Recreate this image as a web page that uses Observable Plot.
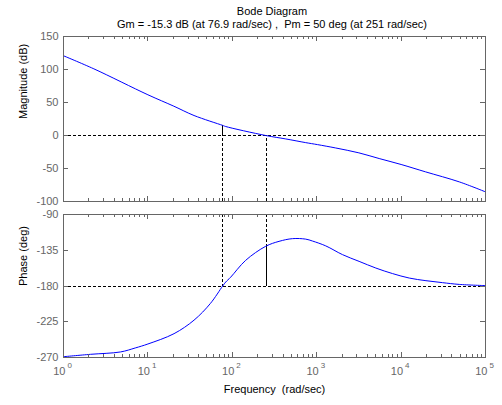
<!DOCTYPE html>
<html><head><meta charset="utf-8">
<script src="https://cdn.jsdelivr.net/npm/d3@7"></script>
<script src="https://cdn.jsdelivr.net/npm/@observablehq/plot@0.6"></script>
<style>
body{margin:0;background:#fff;}
#chart{position:relative;width:502px;height:405px;font-family:"Liberation Sans",Arial,sans-serif;background:#fff;overflow:hidden;}
.t{position:absolute;left:0;width:544px;text-align:center;font-size:11px;line-height:13px;color:#000;white-space:pre;}
svg{display:block}
svg text{white-space:pre}
</style></head><body>
<div id="chart">
<div class="t" id="title" style="top:5px"></div>
<div class="t" id="sub" style="top:18px"></div>
<div id="p1" style="position:absolute;top:30px;left:0"></div>
<div id="p2" style="position:absolute;top:205px;left:0"></div>
</div>
<script>
// ---- data ----
const titleText = "Bode Diagram";
const gmDb = -15.3, gmFreq = 76.9, pmDeg = 50, pmFreq = 251;
const magFreq = [1, 2.29, 10, 20.3, 35.2, 76.9, 83.6, 249, 430, 741, 1020, 1680, 3160, 5500, 10000, 19500, 49000, 100000];
const magDb   = [120.8, 101, 61.7, 44.4, 30.3, 15.3, 13.6, 0, -5.2, -10.8, -13.8, -18.9, -26.3, -34.9, -43.9, -55.1, -70.3, -85.4];
const phFreq = [1, 2.09, 4.74, 7.08, 10, 20.4, 35.2, 55.0, 76.9, 83.6, 95.5, 144, 249, 358, 516, 741, 891, 1280, 2020, 3180, 5020, 7930, 12500, 19700, 31000, 48900, 100000];
const phDeg  = [-269, -266, -263, -258, -253, -240, -223, -202, -180, -175, -169, -147.7, -130, -123.8, -120.4, -121, -123.4, -129.5, -140.5, -149, -157.4, -164.4, -170, -173.3, -175.8, -178, -179.5];
const magTicks = [150, 100, 50, 0, -50, -100];
const phTicks = [-90, -135, -180, -225, -270];
const decadeExp = [0, 1, 2, 3, 4, 5];
const magLabel = "Magnitude (dB)", phLabel = "Phase (deg)", xLabel = "Frequency  (rad/sec)";

// ---- build ----
const axisColor = "#666666";
const font = "'Liberation Sans', Arial, sans-serif";
const decades = decadeExp.map(e => 10 ** e);
const minorX = [];
for (const d of decades.slice(0, -1)) for (let m = 2; m <= 9; m++) minorX.push(d * m);
const magData = magFreq.map((w, i) => ({w, v: magDb[i]}));
const phData = phFreq.map((w, i) => ({w, v: phDeg[i]}));

document.getElementById("title").textContent = titleText;
document.getElementById("sub").textContent =
  `Gm = ${gmDb} dB (at ${gmFreq} rad/sec) ,  Pm = ${pmDeg} deg (at ${pmFreq} rad/sec)`;

const ML = 63, MR = 17, W = 502, FW = W - ML - MR;
const crisp = {shapeRendering: "crispEdges"};
function axisMarks(h, yt, label) {
  return [
    Plot.frame({stroke: axisColor, ...crisp}),
    Plot.ruleX(decades, {stroke: axisColor, insetTop: h - 5, ...crisp}),
    Plot.ruleX(decades, {stroke: axisColor, insetBottom: h - 5, ...crisp}),
    Plot.ruleX(minorX, {stroke: axisColor, insetTop: h - 3, ...crisp}),
    Plot.ruleX(minorX, {stroke: axisColor, insetBottom: h - 3, ...crisp}),
    Plot.ruleY(yt, {stroke: axisColor, insetRight: FW - 5, ...crisp}),
    Plot.ruleY(yt, {stroke: axisColor, insetLeft: FW - 5, ...crisp}),
    Plot.text(yt, {y: d => d, text: d => String(d), frameAnchor: "left", textAnchor: "end", dx: -5, fill: axisColor}),
    Plot.text([label], {frameAnchor: "left", dx: -40, rotate: -90, fill: "#000"})
  ];
}
const dash = "3,2";

const h1 = 165;
const mag = Plot.plot({
  width: W, height: 175, marginTop: 6, marginBottom: 4, marginLeft: ML, marginRight: MR,
  x: {type: "log", domain: [1, 1e5], axis: null},
  y: {domain: [-100, 150], axis: null},
  style: {fontFamily: font, fontSize: "11px", background: "transparent", overflow: "visible"},
  marks: [
    Plot.ruleY([0], {stroke: "#000", strokeDasharray: dash, ...crisp}),
    Plot.ruleX([gmFreq, pmFreq], {y1: -100, y2: 0, stroke: "#000", strokeDasharray: dash, ...crisp}),
    Plot.ruleX([gmFreq], {y1: 0, y2: -gmDb, stroke: "#000", ...crisp}),
    Plot.line(magData, {x: "w", y: "v", stroke: "#0000ff", strokeWidth: 1, curve: "catmull-rom"}),
    ...axisMarks(h1, magTicks, magLabel)
  ]
});
document.getElementById("p1").appendChild(mag);

const h2 = 143;
const ph = Plot.plot({
  width: W, height: 200, marginTop: 9, marginBottom: 48, marginLeft: ML, marginRight: MR,
  x: {type: "log", domain: [1, 1e5], axis: null},
  y: {domain: [-270, -90], axis: null},
  style: {fontFamily: font, fontSize: "11px", background: "transparent", overflow: "visible"},
  marks: [
    Plot.ruleY([-180], {stroke: "#000", strokeDasharray: dash, ...crisp}),
    Plot.ruleX([gmFreq], {y1: -90, y2: -180, stroke: "#000", strokeDasharray: dash, ...crisp}),
    Plot.ruleX([pmFreq], {y1: -90, y2: -180 + pmDeg, stroke: "#000", strokeDasharray: dash, ...crisp}),
    Plot.ruleX([pmFreq], {y1: -180 + pmDeg, y2: -180, stroke: "#000", ...crisp}),
    Plot.line(phData, {x: "w", y: "v", stroke: "#0000ff", strokeWidth: 1, curve: "catmull-rom"}),
    ...axisMarks(h2, phTicks, phLabel),
    Plot.text(decadeExp, {x: e => 10 ** e, text: () => "10", frameAnchor: "bottom", textAnchor: "end", dx: 2, dy: 17.5, fill: axisColor}),
    Plot.text(decadeExp, {x: e => 10 ** e, text: e => String(e), frameAnchor: "bottom", textAnchor: "start", dx: 4, dy: 10, fontSize: 8, fill: axisColor}),
    Plot.text([xLabel], {frameAnchor: "bottom", dy: 35.5, fill: "#000"})
  ]
});
document.getElementById("p2").appendChild(ph);
</script>
</body></html>
